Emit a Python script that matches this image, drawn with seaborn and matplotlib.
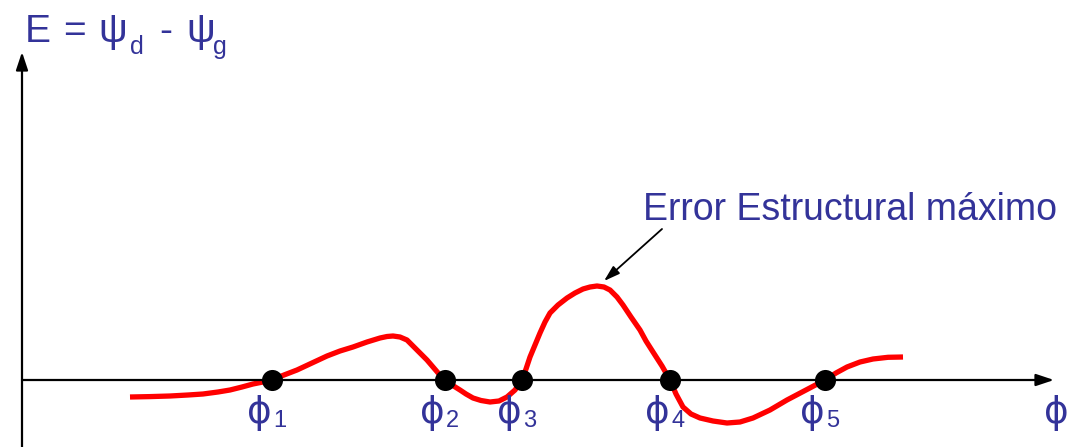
import matplotlib
matplotlib.use("Agg")
import matplotlib.pyplot as plt
import seaborn as sns
import pandas as pd

# curve E(phi) (origin at the axis crossing)
phi = [108, 128, 148, 166, 181, 196, 208, 220, 231, 241, 250, 262, 275, 290,
       305, 318, 331, 345, 358, 365, 371, 378, 385, 391, 398, 405, 411, 417,
       423, 430, 438, 444, 451, 459, 468, 477, 485, 493, 500, 504, 508, 513,
       518, 523, 528, 536, 545, 553, 561, 568, 575, 582, 588, 595, 601, 609,
       618, 624, 631, 640, 648, 654, 661, 669, 678, 691, 705, 718, 731, 748,
       765, 784, 803, 814, 825, 838, 851, 866, 881]
err = [-17, -16.6, -16, -15, -14, -12, -10, -7, -4, -2, 0, 5, 10, 17,
       24, 29, 33, 38, 42, 43.5, 44, 43, 40, 34, 27, 20, 13, 6,
       0, -5, -10, -14, -18, -20.5, -22, -21, -17, -10, 0, 11, 23, 35,
       47, 58, 67, 75, 82, 87, 91, 93, 94, 93, 90, 83, 75, 63,
       50, 39, 28, 14, 0, -14, -27, -34, -38, -41, -43, -42, -38, -30,
       -20, -10, 0, 7, 13, 18, 21, 22.7, 23]
roots = [250, 423, 500, 648, 803]
root_labels = ["1", "2", "3", "4", "5"]

blue = "#333399"

sns.set_theme(style="white")
plt.rcParams["font.family"] = ["Liberation Sans", "DejaVu Sans"]

fig = plt.figure(figsize=(10.7, 4.47), dpi=100)
ax = fig.add_axes([0, 0, 1, 1])

# axes with arrows
ax.annotate("", xy=(1032, 0), xytext=(0, 0),
            arrowprops=dict(arrowstyle="-|>,head_length=0.9,head_width=0.3",
                            color="black", lw=1.6, shrinkA=0, shrinkB=0))
ax.annotate("", xy=(0, 328), xytext=(0, -70),
            arrowprops=dict(arrowstyle="-|>,head_length=0.9,head_width=0.3",
                            color="black", lw=1.6, shrinkA=0, shrinkB=0))

df = pd.DataFrame({"phi": phi, "E": err})
sns.lineplot(data=df, x="phi", y="E", sort=False, color="red", lw=3.8,
             ax=ax, solid_capstyle="butt", solid_joinstyle="round")
sns.scatterplot(x=roots, y=[0] * len(roots), color="black", s=230,
                linewidth=0, ax=ax, zorder=5)
ax.set_xlim(-22, 1048)
ax.set_ylim(-67, 380)
ax.axis("off")

fs = 27
for r, lab in zip(roots, root_labels):
    ax.text(r - 25, -15, "ϕ", fontsize=27, color=blue, ha="left", va="top",
            family="DejaVu Sans")
    ax.text(r + 1, -30, lab, fontsize=17, color=blue, ha="left", va="top")
ax.text(1022, -15, "ϕ", fontsize=27, color=blue, ha="left", va="top",
        family="DejaVu Sans")

# y label: E = psi_d - psi_g
ax.text(3, 338, "E", fontsize=28, color=blue, ha="left", va="baseline")
ax.text(41, 338, "=", fontsize=28, color=blue, ha="left", va="baseline")
ax.text(76, 338, "ψ", fontsize=29, color=blue, ha="left", va="baseline")
ax.text(108, 326, "d", fontsize=18, color=blue, ha="left", va="baseline")
ax.text(137, 338, "-", fontsize=28, color=blue, ha="left", va="baseline")
ax.text(164, 338, "ψ", fontsize=29, color=blue, ha="left", va="baseline")
ax.text(191, 326, "g", fontsize=18, color=blue, ha="left", va="baseline")

ax.text(621, 160, "Error Estructural máximo", fontsize=fs, color=blue,
        ha="left", va="baseline")
ax.annotate("", xy=(582, 99), xytext=(640, 151),
            arrowprops=dict(arrowstyle="-|>,head_length=0.8,head_width=0.25",
                            color="black", lw=1.3, shrinkA=0, shrinkB=0))

fig.savefig("out.png", dpi=100)
